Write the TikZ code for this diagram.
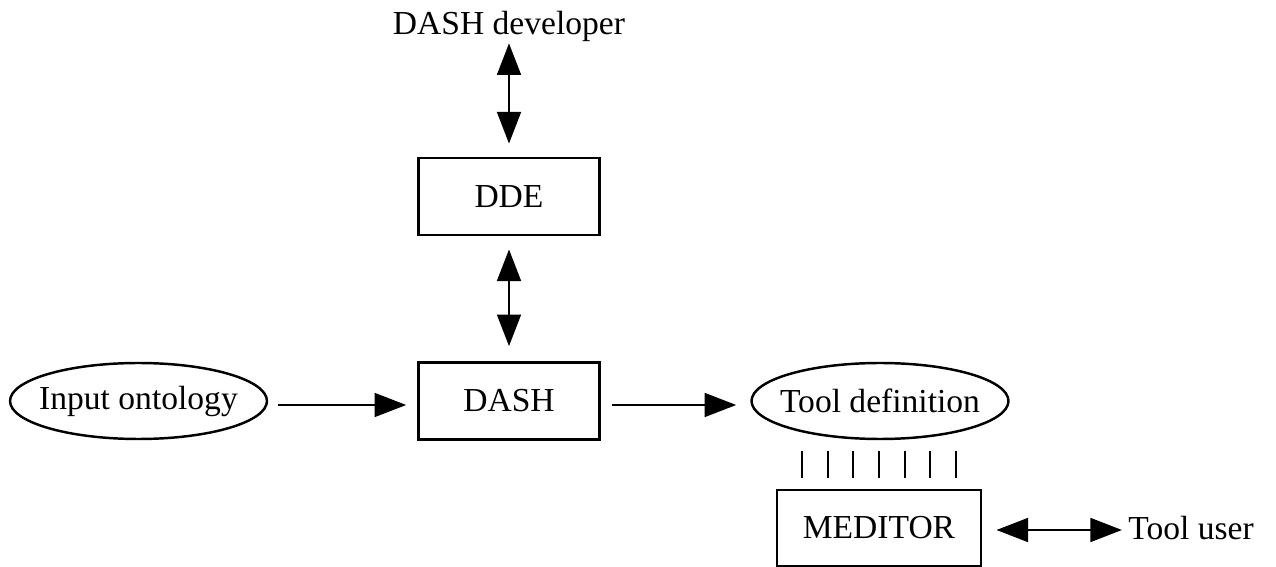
\documentclass[tikz,border=0pt]{standalone}
\usepackage{fontspec}
\setmainfont{Liberation Serif}
\usetikzlibrary{arrows.meta,shapes.geometric}
\tikzset{
  txt/.style={font=\fontsize{19.1}{23}\selectfont, inner sep=0pt},
  boxnode/.style={txt, draw, line width=1.6pt, minimum width=3.62cm, minimum height=1.54cm},
  ellnode/.style={txt, draw, ellipse, line width=1.4pt, inner xsep=-0.2cm, minimum width=5.14cm, minimum height=1.52cm},
  conn/.style={line width=1.5pt, -{Triangle[length=18pt,width=13.5pt]}},
  dconn/.style={line width=1.5pt, {Triangle[length=18pt,width=13.5pt]}-{Triangle[length=18pt,width=13.5pt]}},
  tick/.style={line width=1.5pt}
}
\begin{document}
\begin{tikzpicture}[x=0.02cm,y=-0.02cm]
\useasboundingbox (0,0) rectangle (1276,567);
\node[txt] (dev) at (509,26) {DASH developer};
\node[boxnode] (dde) at (509,196.5) {DDE};
\node[boxnode] (dash) at (509,401) {DASH};
\node[ellnode] (io) at (138.5,401) {Input ontology};
\node[ellnode] (td) at (880,401) {Tool definition};
\node[boxnode, minimum width=4.08cm, minimum height=1.52cm] (med) at (879,528) {MEDITOR};
\node[txt] (tu) at (1191,528) {Tool user};

\draw[dconn, shorten <=1pt, shorten >=7.4pt] (dev.south) -- (dde.north);
\draw[dconn, shorten <=7.4pt, shorten >=8.5pt] (dde.south) -- (dash.north);
\draw[conn, shorten <=5.7pt, shorten >=6.2pt] ([yshift=-0.08cm]io.east) -- ([yshift=-0.08cm]dash.west);
\draw[conn, shorten <=6.2pt, shorten >=8pt] ([yshift=-0.08cm]dash.east) -- ([yshift=-0.08cm]td.west);
\draw[dconn, shorten <=8pt, shorten >=3.4pt] ([yshift=-0.04cm]med.east) -- ([yshift=-0.04cm]tu.west);

\foreach \dx in {-77,-51,-26,0,26,51,77}
  \draw[tick] (879+\dx,451) -- (879+\dx,478);
\end{tikzpicture}
\end{document}
